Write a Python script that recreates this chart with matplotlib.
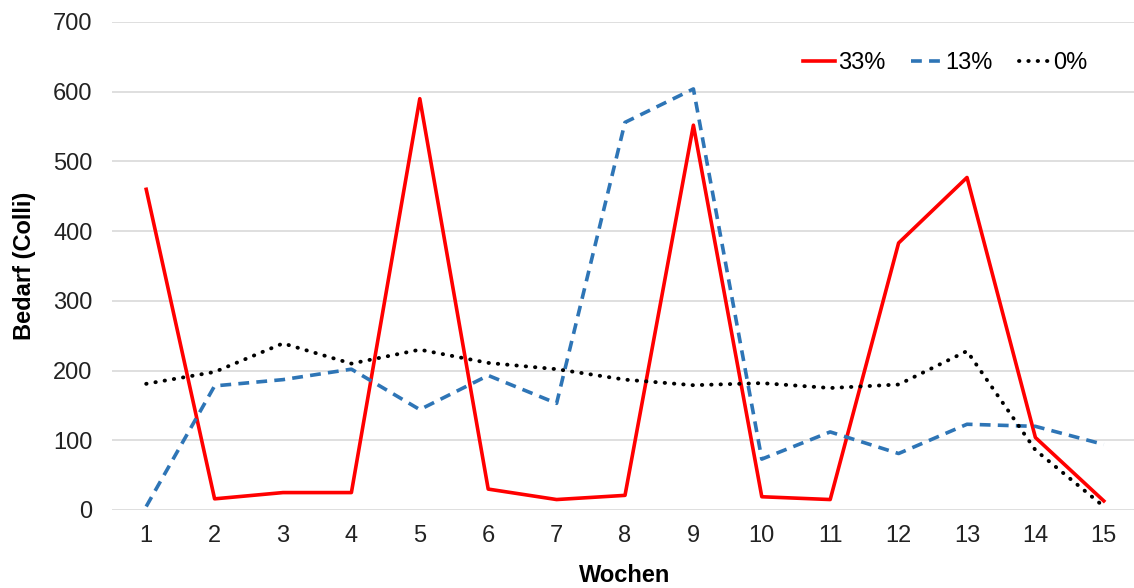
import matplotlib
matplotlib.use("Agg")
import matplotlib.pyplot as plt

weeks = list(range(1, 16))
s33 = [460, 16, 25, 25, 590, 30, 15, 21, 552, 19, 15, 383, 477, 104, 13]
s13 = [5, 178, 187, 202, 144, 193, 153, 556, 604, 73, 112, 81, 123, 120, 94]
s0 = [181, 198, 239, 210, 230, 211, 202, 187, 179, 182, 175, 180, 228, 86, 5]
labels = ["33%", "13%", "0%"]
yticks = [0, 100, 200, 300, 400, 500, 600, 700]

plt.rcParams['font.family'] = ['Liberation Sans', 'DejaVu Sans']

fig = plt.figure(figsize=(11.34, 5.88), dpi=100)
ax = fig.add_axes([112/1134, 78/588, 1026/1134, 488/588])

ax.plot(weeks, s33, color='#FF0000', lw=2.6, label=labels[0])
ax.plot(weeks, s13, color='#2E75B6', lw=2.6, ls=(0, (3, 2)), label=labels[1])
ax.plot(weeks, s0, color='black', lw=2.8, ls=(0, (0.1, 2.3)), dash_capstyle='round', label=labels[2])

ax.set_xlim(0.5, 15.5)
ax.set_ylim(0, 700)
ax.set_yticks(yticks)
ax.set_xticks(weeks)
ax.grid(axis='y', color='#d9d9d9', lw=1.2)
ax.set_axisbelow(True)
for s in ax.spines.values():
    s.set_visible(False)
ax.tick_params(length=0, labelsize=17, colors='#222222', pad=11)
ax.tick_params(axis='y', pad=14)

ax.set_ylabel('Bedarf (Colli)', fontsize=17, fontweight='bold', labelpad=12)
ax.set_xlabel('Wochen', fontsize=17, fontweight='bold', labelpad=12)

leg = ax.legend(loc='upper right', bbox_to_anchor=(1087/1134, 1 - 52/588),
                bbox_transform=fig.transFigure, ncol=3, frameon=False,
                fontsize=17, handlelength=1.35, handletextpad=0.1, columnspacing=1.1,
                borderaxespad=0, borderpad=0)

fig.savefig('out.png', dpi=100)
